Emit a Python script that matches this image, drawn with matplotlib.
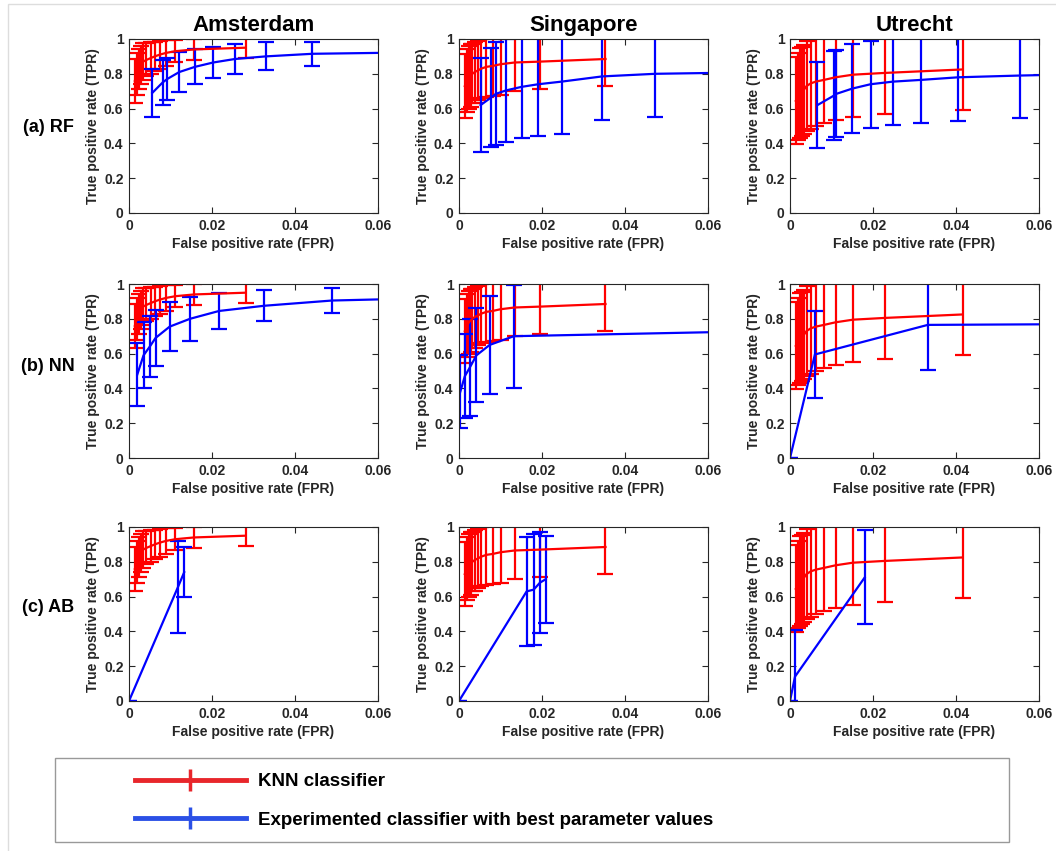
import matplotlib
matplotlib.use('Agg')
import matplotlib.pyplot as plt
from matplotlib.lines import Line2D
from matplotlib.patches import Rectangle
from matplotlib.legend_handler import HandlerTuple

plt.rcParams['font.family'] = ['Liberation Sans', 'DejaVu Sans']
plt.rcParams['font.weight'] = 'bold'

cities = ['Amsterdam', 'Singapore', 'Utrecht']
methods = ['(a) RF', '(b) NN', '(c) AB']

# KNN classifier (same curve in every row)
knn_ams_x = [0.0014, 0.0019, 0.0024, 0.0028, 0.0034, 0.0042, 0.0052, 0.0062, 0.0074, 0.0089, 0.0112, 0.0157, 0.0281]
knn_ams_y = [0.76, 0.80, 0.83, 0.85, 0.87, 0.88, 0.89, 0.90, 0.91, 0.92, 0.93, 0.94, 0.95]
knn_ams_e = [0.125, 0.12, 0.115, 0.11, 0.105, 0.095, 0.09, 0.085, 0.08, 0.075, 0.065, 0.06, 0.06]

knn_sgp_x = [0.0014, 0.0019, 0.0024, 0.0028, 0.0032, 0.0038, 0.0046, 0.0054, 0.0066, 0.0081, 0.0100, 0.0134, 0.0195, 0.0353]
knn_sgp_y = [0.73, 0.76, 0.78, 0.79, 0.80, 0.81, 0.82, 0.83, 0.84, 0.845, 0.855, 0.865, 0.87, 0.885]
knn_sgp_e = [0.185, 0.18, 0.18, 0.18, 0.17, 0.175, 0.17, 0.17, 0.175, 0.17, 0.175, 0.165, 0.155, 0.155]

knn_utr_x = [0.0014, 0.0020, 0.0024, 0.0029, 0.0034, 0.0040, 0.0050, 0.0062, 0.0082, 0.0110, 0.0152, 0.0228, 0.0416]
knn_utr_y = [0.645, 0.67, 0.69, 0.70, 0.71, 0.73, 0.745, 0.755, 0.765, 0.78, 0.795, 0.805, 0.825]
knn_utr_e = [0.25, 0.25, 0.26, 0.255, 0.255, 0.26, 0.26, 0.255, 0.245, 0.245, 0.245, 0.235, 0.235]

# Experimented classifiers (last point of some curves lies past the x limit)
rf_ams_x = [0.0056, 0.0081, 0.0092, 0.0121, 0.0159, 0.0203, 0.0255, 0.0329, 0.0442, 0.075]
rf_ams_y = [0.69, 0.75, 0.77, 0.81, 0.84, 0.865, 0.885, 0.90, 0.915, 0.925]
rf_ams_e = [0.14, 0.13, 0.12, 0.115, 0.10, 0.09, 0.085, 0.08, 0.07, 0.06]

rf_sgp_x = [0.0052, 0.0078, 0.0089, 0.0114, 0.0151, 0.0191, 0.0247, 0.0345, 0.0473, 0.075]
rf_sgp_y = [0.62, 0.665, 0.685, 0.705, 0.725, 0.74, 0.755, 0.785, 0.80, 0.81]
rf_sgp_e = [0.27, 0.285, 0.295, 0.295, 0.295, 0.30, 0.30, 0.25, 0.25, 0.25]

rf_utr_x = [0.0066, 0.0106, 0.0112, 0.0150, 0.0194, 0.0248, 0.0316, 0.0406, 0.0554, 0.075]
rf_utr_y = [0.62, 0.675, 0.685, 0.715, 0.74, 0.755, 0.765, 0.78, 0.79, 0.80]
rf_utr_e = [0.245, 0.255, 0.25, 0.255, 0.25, 0.25, 0.245, 0.25, 0.245, 0.24]

nn_ams_x = [0.0020, 0.0035, 0.0050, 0.0064, 0.0098, 0.0147, 0.0217, 0.0326, 0.0489, 0.075]
nn_ams_y = [0.48, 0.59, 0.64, 0.69, 0.755, 0.80, 0.845, 0.875, 0.905, 0.92]
nn_ams_e = [0.18, 0.19, 0.175, 0.16, 0.14, 0.125, 0.105, 0.09, 0.07, 0.06]

nn_sgp_x = [0.0003, 0.0014, 0.0026, 0.0042, 0.0074, 0.0132, 0.075]
nn_sgp_y = [0.38, 0.47, 0.52, 0.59, 0.65, 0.70, 0.73]
nn_sgp_e = [0.21, 0.24, 0.28, 0.27, 0.28, 0.295, 0.25]

nn_utr_x = [0.0, 0.0060, 0.0332, 0.075]
nn_utr_y = [0.0, 0.595, 0.765, 0.77]
nn_utr_e = [0.0, 0.25, 0.26, 0.25]

ab_ams_x = [0.0, 0.0118, 0.0133]
ab_ams_y = [0.0, 0.655, 0.74]
ab_ams_e = [0.0, 0.265, 0.145]

ab_sgp_x = [0.0, 0.0163, 0.0180, 0.0195, 0.0209]
ab_sgp_y = [0.0, 0.63, 0.64, 0.68, 0.70]
ab_sgp_e = [0.0, 0.315, 0.32, 0.29, 0.25]

ab_utr_x = [0.0, 0.0012, 0.0180]
ab_utr_y = [0.0, 0.14, 0.71]
ab_utr_e = [0.0, 0.27, 0.27]

xticks = [0, 0.02, 0.04, 0.06]
xtick_labels = ['0', '0.02', '0.04', '0.06']
yticks = [0, 0.2, 0.4, 0.6, 0.8, 1.0]
ytick_labels = ['0', '0.2', '0.4', '0.6', '0.8', '1']

knn = [(knn_ams_x, knn_ams_y, knn_ams_e),
       (knn_sgp_x, knn_sgp_y, knn_sgp_e),
       (knn_utr_x, knn_utr_y, knn_utr_e)]
exp = [[(rf_ams_x, rf_ams_y, rf_ams_e), (rf_sgp_x, rf_sgp_y, rf_sgp_e), (rf_utr_x, rf_utr_y, rf_utr_e)],
       [(nn_ams_x, nn_ams_y, nn_ams_e), (nn_sgp_x, nn_sgp_y, nn_sgp_e), (nn_utr_x, nn_utr_y, nn_utr_e)],
       [(ab_ams_x, ab_ams_y, ab_ams_e), (ab_sgp_x, ab_sgp_y, ab_sgp_e), (ab_utr_x, ab_utr_y, ab_utr_e)]]

W, H = 1056, 851
fig = plt.figure(figsize=(W / 100, H / 100), dpi=100)

col_left = [129, 459, 790]
row_top = [39, 284, 527]
ax_w, ax_h = 249, 174
dark = '#262626'

for r in range(3):
    for c in range(3):
        ax = fig.add_axes([col_left[c] / W, 1 - (row_top[r] + ax_h) / H, ax_w / W, ax_h / H])
        kx, ky, ke = knn[c]
        ax.errorbar(kx, ky, yerr=ke, color='red', lw=1.6, elinewidth=1.6, capsize=5.5, capthick=1.6)
        ex, ey, ee = exp[r][c]
        ax.errorbar(ex, ey, yerr=ee, color='blue', lw=1.6, elinewidth=1.6, capsize=5.5, capthick=1.6)
        ax.set_xlim(0, 0.06)
        ax.set_ylim(0, 1)
        ax.set_xticks(xticks, xtick_labels)
        ax.set_yticks(yticks, ytick_labels)
        ax.tick_params(direction='in', top=True, right=True, length=4, width=0.8,
                       colors=dark, labelsize=10, pad=4)
        for sp_ in ax.spines.values():
            sp_.set_color(dark)
            sp_.set_linewidth(0.8)
        ax.set_xlabel('False positive rate (FPR)', fontsize=10, fontweight='bold', color=dark, labelpad=3)
        ax.set_ylabel('True positive rate (TPR)', fontsize=10, fontweight='bold', color=dark, labelpad=3)
        if r == 0:
            ax.set_title(cities[c], fontsize=16, fontweight='bold', pad=6)

row_label_y = [128, 367, 608]
for r in range(3):
    fig.text(48 / W, 1 - row_label_y[r] / H, methods[r], fontsize=13, fontweight='bold',
             ha='center', va='center')

# faint outer frame (top/left edges visible)
fig.add_artist(Rectangle((8 / W, -0.01), 1.1, 1 - 4 / H + 0.01, transform=fig.transFigure,
                         fill=False, edgecolor='#dddddd', lw=1))

# legend box
fig.add_artist(Rectangle((55 / W, 1 - 842 / H), 954 / W, 84 / H, transform=fig.transFigure,
                         fill=False, edgecolor='#999999', lw=1))

red_h = (Line2D([], [], color='#e8262b', lw=3.5),
         Line2D([], [], color='#e8262b', marker='|', markersize=16, mew=2.5, ls='none'))
blue_h = (Line2D([], [], color='#2b50e6', lw=3.5),
          Line2D([], [], color='#2b50e6', marker='|', markersize=16, mew=2.5, ls='none'))
fig.legend([red_h, blue_h], ['KNN classifier', 'Experimented classifier with best parameter values'],
           handler_map={tuple: HandlerTuple(ndivide=1)},
           loc='upper left', bbox_to_anchor=(135 / W, 1 - 773 / H), frameon=False,
           borderpad=0, borderaxespad=0, handlelength=5.9, handletextpad=0.65,
           labelspacing=1.16, prop={'size': 13.5, 'weight': 'bold'})

fig.savefig('out.png', dpi=100)
